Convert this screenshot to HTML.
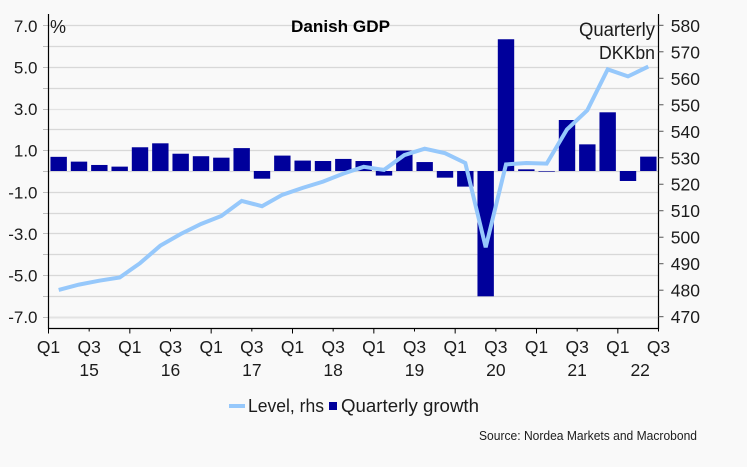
<!DOCTYPE html>
<html lang="en">
<head>
<meta charset="utf-8">
<title>Danish GDP</title>
<style>
html,body{margin:0;padding:0;background:#f9f9f9;width:747px;height:467px;overflow:hidden}
svg{display:block}
text{font-family:"Liberation Sans",sans-serif;fill:#1c1c1c}
</style>
</head>
<body>
<svg id="chart" width="747" height="467" viewBox="0 0 747 467">
<rect x="0" y="0" width="747" height="467" fill="#f9f9f9"/>
<g id="grid"></g>
<g id="bars"></g>
<polyline id="levelLine" fill="none" stroke="#96c8fb" stroke-width="4" stroke-linejoin="miter"/>
<g id="axes"></g>
<text x="291" y="32" font-size="17" font-weight="bold" textLength="99" lengthAdjust="spacingAndGlyphs" style="fill:#000">Danish GDP</text>
<text x="50" y="33" font-size="18">%</text>
<text x="655" y="36" text-anchor="end" font-size="19" textLength="76" lengthAdjust="spacingAndGlyphs">Quarterly</text>
<text x="655" y="59" text-anchor="end" font-size="18.5" textLength="56" lengthAdjust="spacingAndGlyphs">DKKbn</text>
<line x1="229" y1="406" x2="245" y2="406" stroke="#96c8fb" stroke-width="4"/>
<text x="248" y="412" font-size="18.5" textLength="76" lengthAdjust="spacingAndGlyphs">Level, rhs</text>
<rect x="329" y="402" width="8" height="8" fill="#00009b"/>
<text x="341" y="412" font-size="18.5" textLength="138" lengthAdjust="spacingAndGlyphs">Quarterly growth</text>
<text x="479" y="440" font-size="12.5" textLength="218" lengthAdjust="spacingAndGlyphs">Source: Nordea Markets and Macrobond</text>
</svg>
<script>
const growth = [0.68,0.45,0.29,0.21,1.14,1.33,0.83,0.71,0.64,1.10,-0.37,0.74,0.50,0.48,0.58,0.48,-0.22,0.98,0.43,-0.32,-0.75,-6.02,6.33,0.08,-0.03,2.45,1.28,2.82,-0.48,0.69];
const level = [480.1,482.1,483.6,484.8,490.2,496.8,501.2,505,508,513.7,511.7,516,518.6,521,524,526.6,525.4,531,533.4,531.7,528,496.2,527.5,528,527.8,540.7,547.9,563.4,560.7,564.4];
const leftTicks = ["7.0","5.0","3.0","1.0","-1.0","-3.0","-5.0","-7.0"];
const rightTicks = ["580","570","560","550","540","530","520","510","500","490","480","470"];
const quarterLabels = ["Q1","Q3","Q1","Q3","Q1","Q3","Q1","Q3","Q1","Q3","Q1","Q3","Q1","Q3","Q1","Q3"];
const yearLabels = ["15","16","17","18","19","20","21","22"];
const yearSlots = [2,6,10,14,18,22,26,29.1];

const NS = "http://www.w3.org/2000/svg";
const plotLeft = 48.5, plotRight = 658.5, plotTop = 14, plotBottom = 328.5;
const quarterCount = growth.length;
const xAt = i => plotLeft + (plotRight - plotLeft) * i / quarterCount;
const yLeft = v => 25.3 + (7 - v) * 20.814;
const yRight = v => 25.3 + (580 - v) * 2.649;

function make(parent, tag, props, content) {
  const el = document.createElementNS(NS, tag);
  for (const k in props) el.setAttribute(k, props[k]);
  if (content !== undefined) el.textContent = content;
  parent.appendChild(el);
  return el;
}

const grid = document.getElementById("grid");
const axes = document.getElementById("axes");
const barsGroup = document.getElementById("bars");

for (let v = 7; v >= -7; v--) {
  const y = Math.round(yLeft(v)) + 0.5;
  const gl = make(grid, "line", {x1: plotLeft, x2: plotRight, y1: y, y2: y, stroke: v === -7 || v === 3 ? "#e3e3e3" : "#d8d8d8", "stroke-width": v === -7 ? 2 : 1.2});
  
  
  const tk = make(axes, "line", {x1: 43, x2: plotLeft, y1: y, y2: y, stroke: "#bdbdbd", "stroke-width": 1});
  
  
}

growth.forEach((v, i) => {
  const cx = xAt(i + 0.5);
  const y0 = yLeft(0), y1 = yLeft(v);
  const bar = make(barsGroup, "rect", {x: cx - 8.2, width: 16.4, y: Math.min(y0, y1), height: Math.max(Math.abs(y1 - y0), 0.6), fill: "#00009b"});
  
  
});

document.getElementById("levelLine").setAttribute("points",
  level.map((v, i) => xAt(i + 0.5).toFixed(1) + "," + yRight(v).toFixed(1)).join(" "));

const leftAxis = make(axes, "line", {x1: plotLeft, x2: plotLeft, y1: plotTop, y2: plotBottom + 0.5, stroke: "#000", "stroke-width": 1.2});


const rightAxis = make(axes, "line", {x1: plotRight, x2: plotRight, y1: plotTop, y2: plotBottom + 0.5, stroke: "#000", "stroke-width": 1.2});


const bottomAxis = make(axes, "line", {x1: plotLeft, x2: plotRight, y1: plotBottom, y2: plotBottom, stroke: "#000", "stroke-width": 1.2});



leftTicks.forEach(t => {
  const label = make(axes, "text", {x: 37.5, y: yLeft(parseFloat(t)) + 6.5, "text-anchor": "end", "font-size": 17}, t);
  
  
});

rightTicks.forEach(t => {
  const y = yRight(parseFloat(t));
  const tick = make(axes, "line", {x1: plotRight, x2: plotRight + 5, y1: y, y2: y, stroke: "#555", "stroke-width": 1});
  
  
  const label = make(axes, "text", {x: 700, y: y + 6.5, "text-anchor": "end", "font-size": 17.5}, t);
  
  
});

quarterLabels.forEach((t, n) => {
  const x = xAt(n * 2);
  const tick = make(axes, "line", {x1: x, x2: x, y1: plotBottom, y2: plotBottom + (t === "Q1" ? 5 : 3), stroke: "#000", "stroke-width": 1});
  
  
  const label = make(axes, "text", {x: x, y: 353, "text-anchor": "middle", "font-size": 17.5}, t);
  
  
});

yearLabels.forEach((t, n) => {
  const label = make(axes, "text", {x: xAt(yearSlots[n]), y: 376, "text-anchor": "middle", "font-size": 17.5}, t);
  
  
});
</script>
</body>
</html>
